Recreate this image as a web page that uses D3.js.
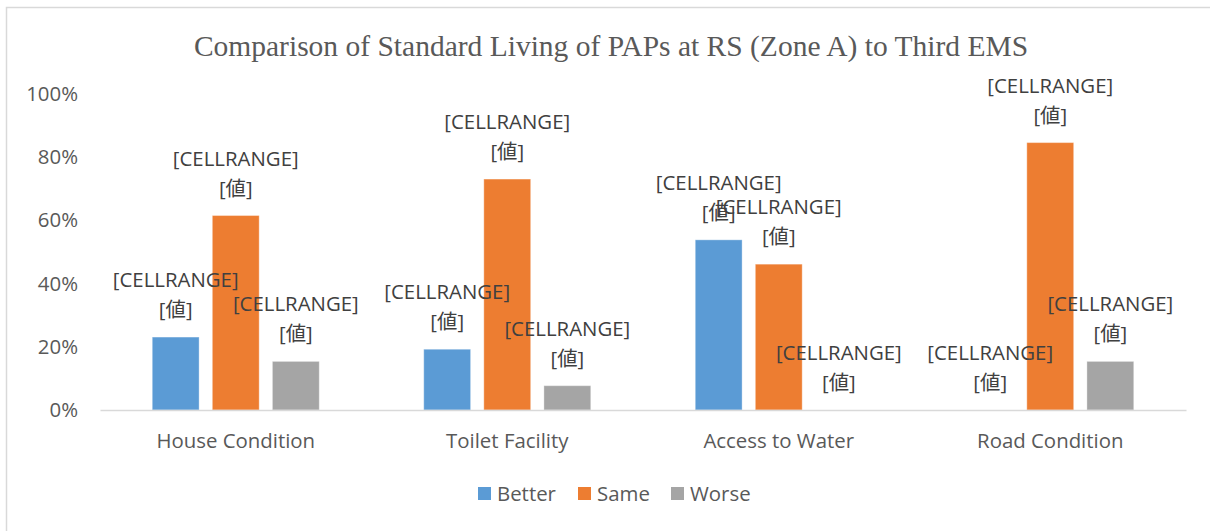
<!DOCTYPE html>
<html><head><meta charset="utf-8">
<script src="https://cdn.jsdelivr.net/npm/d3@7"></script>
<style>body{margin:0;background:#fff;} svg{display:block;}</style>
</head><body>
<script>
const title = "Comparison of Standard Living of PAPs at RS (Zone A) to Third EMS";
const categories = ["House Condition", "Toilet Facility", "Access to Water", "Road Condition"];
const seriesNames = ["Better", "Same", "Worse"];
const better = [0.2308, 0.1923, 0.5385, 0];
const same   = [0.6154, 0.7308, 0.4615, 0.8462];
const worse  = [0.1538, 0.0769, 0, 0.1538];
const colors = ["#5B9BD5", "#ED7D31", "#A5A5A5"];
const yTicks = [0, 0.2, 0.4, 0.6, 0.8, 1.0];
const labelLine1 = "[CELLRANGE]";
const labelLine2 = "[値]";

const W = 1210, H = 531;
const svg = d3.select("body").append("svg").attr("width", W).attr("height", H);
svg.append("rect").attr("x", 6.5).attr("y", 7.5).attr("width", W + 10).attr("height", H + 10)
  .attr("fill", "#fff").attr("stroke", "#d9d9d9").attr("stroke-width", 1.5);

const font = "'Open Sans', 'Noto Sans', sans-serif";
const fs = 20.4;
const txtColor = "#595959";

svg.append("text").attr("x", 611).attr("y", 56).attr("text-anchor", "middle")
  .attr("font-family", "'Liberation Serif', 'Times New Roman', serif").attr("font-size", 29.5)
  .attr("fill", txtColor).text(title);

const x0 = d3.scaleBand().domain(categories).range([100, 1186]).paddingInner(0).paddingOuter(0);
const x1 = d3.scaleBand().domain(seriesNames).range([0, 167]).paddingInner(0.22);
const y = d3.scaleLinear().domain([0, 1]).range([410, 94]);

// y axis labels
const yAxis = svg.append("g").attr("transform", "translate(78,0)")
  .call(d3.axisLeft(y).tickValues(yTicks).tickFormat(d3.format(".0%")).tickSize(0).tickPadding(0));
yAxis.select(".domain").remove();
yAxis.selectAll("text").attr("font-family", font).attr("font-size", fs).attr("fill", txtColor);

const series = [better, same, worse];
const data = [];
categories.forEach((c, i) => seriesNames.forEach((s, j) => data.push({c, s, v: series[j][i], color: colors[j]})));
const groupOff = (x0.bandwidth() - 167) / 2;

svg.append("g").selectAll("rect").data(data).join("rect")
  .attr("x", d => x0(d.c) + groupOff + x1(d.s))
  .attr("y", d => y(d.v))
  .attr("width", x1.bandwidth())
  .attr("height", d => y(0) - y(d.v))
  .attr("fill", d => d.color)
  .attr("stroke", "#fff").attr("stroke-opacity", 0.35).attr("stroke-width", 1);

// x axis
const xAxis = svg.append("g").attr("transform", "translate(0,410)")
  .call(d3.axisBottom(x0).tickSize(0).tickPadding(0));
xAxis.select(".domain").attr("stroke", "#d9d9d9").attr("stroke-width", 1.5);
xAxis.selectAll("text").attr("dy", 0).attr("y", 38).attr("font-family", font).attr("font-size", fs).attr("fill", txtColor);

// data labels
const lab = svg.append("g").selectAll("g").data(data).join("g")
  .attr("transform", d => `translate(${x0(d.c) + groupOff + x1(d.s) + x1.bandwidth()/2},${y(d.v)})`);
lab.append("text").attr("y", -50).attr("text-anchor", "middle").attr("font-family", font)
  .attr("font-size", fs).attr("fill", "#404040").text(labelLine1);
lab.append("text").attr("y", -20).attr("text-anchor", "middle").attr("font-family", "'Open Sans', 'Noto Sans CJK JP', sans-serif")
  .attr("font-size", fs).attr("fill", "#404040").text(labelLine2);

// legend
const legendX = [478, 578, 671];
const leg = svg.append("g").selectAll("g").data(seriesNames).join("g")
  .attr("transform", (d, i) => `translate(${legendX[i]},487)`);
leg.append("rect").attr("x", 0).attr("y", 0).attr("width", 13).attr("height", 13).attr("fill", (d, i) => colors[i]);
leg.append("text").attr("x", 19).attr("y", 14).attr("font-family", font).attr("font-size", fs)
  .attr("fill", txtColor).text(d => d);
</script>
</body></html>
